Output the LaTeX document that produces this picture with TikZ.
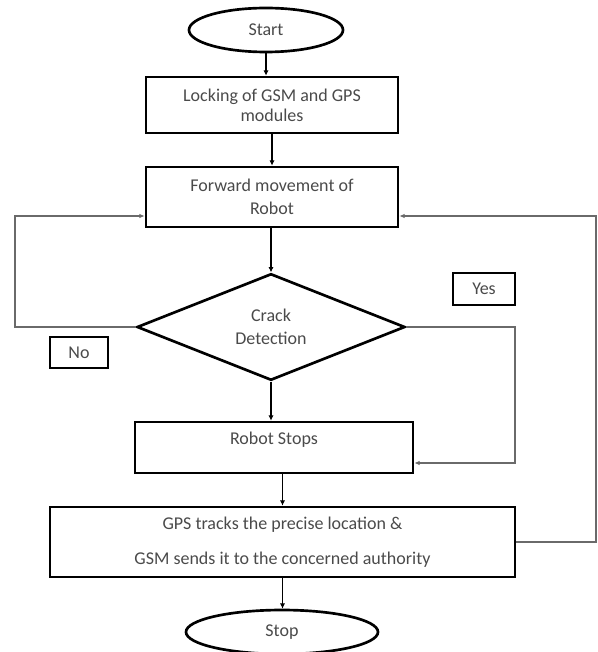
\documentclass[tikz,border=0pt]{standalone}
\usepackage{fontspec}
\setmainfont{Carlito}
\usetikzlibrary{shapes.geometric,arrows.meta}
\definecolor{txtgray}{HTML}{4A4A4A}
\definecolor{linegray}{HTML}{6A6A6A}

\begin{document}
\begin{tikzpicture}[x=0.75pt,y=-0.75pt,
  every node/.style={font=\fontsize{13.5}{15}\selectfont, text=txtgray},
  box/.style={draw=black, line width=2pt, rectangle, align=center, inner sep=0pt},
  term/.style={draw=black, line width=2pt, ellipse, inner sep=0pt},
  decision/.style={draw=black, line width=2pt, diamond, align=center, inner sep=0pt},
  tag/.style={draw=black, line width=1.8pt, inner sep=0pt},
  arr/.style={line width=1.1pt, -{Latex[length=4pt,width=4pt]}},
  back/.style={draw=linegray, line width=1pt, -{Latex[length=4pt,width=3.5pt]}}]
  \useasboundingbox (0,0) rectangle (598,652);

  % blocchi principali
  \node[term, minimum width=115.5pt, minimum height=33pt] (start) at (266,30) {Start};
  \node[box, minimum width=189pt, minimum height=42pt] (lock) at (272,105) {Locking of GSM and GPS\\modules};
  \node[box, minimum width=189pt, minimum height=45pt] (fwd) at (272,197) {Forward movement of\\[2pt]Robot};
  \node[decision, minimum width=201pt, minimum height=78pt] (dec) at (271,327) {Crack\\[2pt]Detection};
  \node[box, minimum width=208.5pt, minimum height=38.25pt] (stops) at (274,447.5) {};
  \node (stopstxt) at (274,440) {Robot Stops};
  \node[box, minimum width=348.75pt, minimum height=52.5pt] (gps) at (282.5,542) {GPS tracks the precise location \&\\[11pt]GSM sends it to the concerned authority};
  \node[term, minimum width=144pt, minimum height=33pt] (stopn) at (282,632) {Stop};

  % etichette
  \node[tag, minimum width=46.5pt, minimum height=24pt] (yes) at (484,289) {Yes};
  \node[tag, minimum width=43.5pt, minimum height=23.25pt] (no) at (79,352.5) {No};

  % frecce in colonna
  \draw[arr] (start) -- (start |- lock.north);
  \draw[arr] (lock) -- (fwd);
  \draw[arr] (fwd.south -| dec.north) -- (dec.north);
  \draw[arr] (dec.south) -- (dec.south |- stops.north);
  \draw[arr] (stops.south -| gps.north) -- (gps.north);
  \draw[arr] (gps.south) -- (gps.south |- stopn.north);

  % rami di ritorno
  \coordinate (nl) at (15,216);
  \coordinate (yr) at (515,463);
  \coordinate (gr) at (596,216);
  \draw[back] (dec.west) -| (nl) -- (nl -| fwd.west);
  \draw[back] (dec.east) -| (yr) -- (yr -| stops.east);
  \draw[back] (gps.east) -| (gr) -- (gr -| fwd.east);
\end{tikzpicture}
\end{document}
